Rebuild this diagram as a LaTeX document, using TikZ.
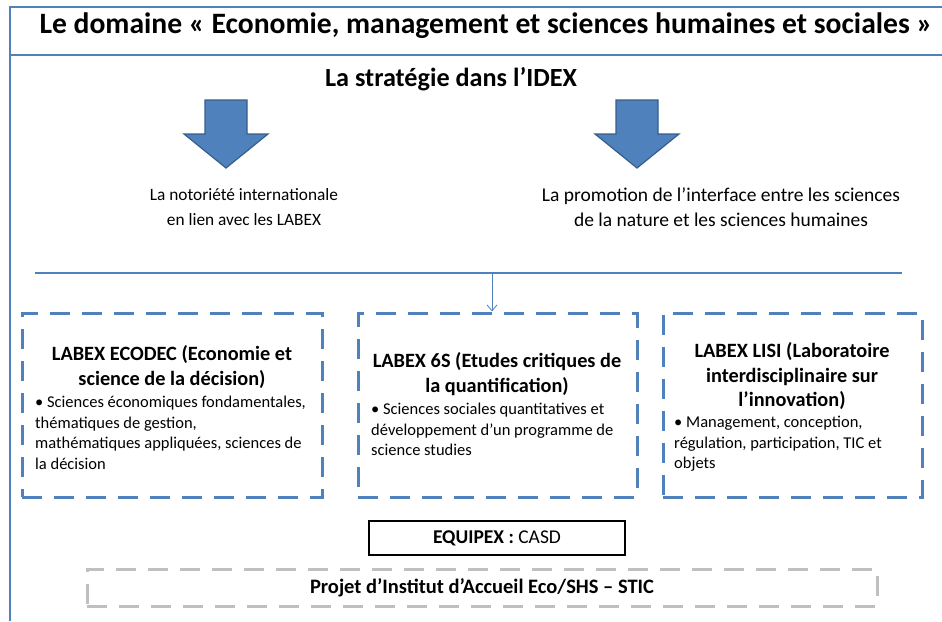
\documentclass[tikz,border=0pt]{standalone}
\usepackage{fontspec}
\setmainfont{Carlito}
\usetikzlibrary{arrows.meta}
\definecolor{officeblue}{HTML}{4F81BD}
\definecolor{darkblue}{HTML}{385D8A}
\definecolor{lightgray}{HTML}{BFBFBF}
\tikzstyle{frame}=[officeblue, line width=2.5pt]
\tikzstyle{labex box}=[draw=officeblue, line width=3pt, dash pattern=on 20pt off 12pt, minimum height=184pt]
\tikzstyle{labex title}=[font=\fontsize{20.3}{24.5}\selectfont\bfseries, align=center]
\tikzstyle{labex text}=[font=\fontsize{16.5}{20.5}\selectfont, align=left, anchor=north west, inner sep=0pt]
\tikzstyle{block arrow}=[fill=officeblue, draw=darkblue, line width=1.2pt]
\tikzstyle{plain text}=[align=center]
\begin{document}
\begin{tikzpicture}[x=1pt, y=-1pt]
      \useasboundingbox (0, 0) rectangle (942, 621);
      % outer frame
      \draw[frame] (942, 7) -- (10, 7) -- (10, 621);
      \draw[frame] (10, 55) -- (942, 55);
      \node[font=\fontsize{29.6}{34}\selectfont\bfseries, inner sep=0pt] (title) at (486, 26)
        {Le domaine « Economie, management et sciences humaines et sociales »};
      \node[font=\fontsize{26.2}{28}\selectfont\bfseries] (idex) at (451, 79)
        {La stratégie dans l’IDEX};
      % block arrows
      \foreach \cx/\name in {226/left, 637/right} {
        \draw[block arrow] (\cx-21, 100) -- (\cx+21, 100) -- (\cx+21, 134)
          -- (\cx+42, 134) -- (\cx, 168) -- (\cx-42, 134) -- (\cx-21, 134) -- cycle;
        \coordinate (arrow \name) at (\cx, 168);
      }
      \node[plain text, font=\fontsize{17.3}{25}\selectfont] (notoriete) at (244, 207)
        {La notoriété internationale\\en lien avec les LABEX};
      \node[plain text, font=\fontsize{19.5}{25}\selectfont] (promotion) at (721, 207)
        {La promotion de l’interface entre les sciences\\de la nature et les sciences humaines};
      % horizontal rule and small arrow
      \coordinate (rule west) at (35, 273);
      \coordinate (rule east) at (902, 273);
      \coordinate (split) at (492, 273);
      \draw[officeblue, line width=1.5pt] (rule west) -- (rule east);
      % labex boxes
      \node[labex box, minimum width=300pt] (ecodec) at (172, 405) {};
      \node[labex box, minimum width=279pt] (labex6s) at (497.5, 405) {};
      \node[labex box, minimum width=259pt] (lisi) at (792.5, 405) {};
      \draw[officeblue, line width=0.8pt, -{Straight Barb[length=6pt, width=10pt]}]
        (split) -- (split |- labex6s.north);
      \node[labex title] (ecodec title) at (172, 367)
        {LABEX ECODEC (Economie et\\science de la décision)};
      \node[labex text] (ecodec text) at (35, 396)
        {• Sciences économiques fondamentales,\\thématiques de gestion,\\mathématiques appliquées, sciences de\\la décision};
      \node[labex title] (labex6s title) at (497, 374)
        {LABEX 6S (Etudes critiques de\\la quantification)};
      \node[labex text] (labex6s text) at (371, 403)
        {• Sciences sociales quantitatives et\\développement d’un programme de\\science studies};
      \node[labex title] (lisi title) at (792, 376)
        {LABEX LISI (Laboratoire\\interdisciplinaire sur\\l’innovation)};
      \node[labex text] (lisi text) at (674, 416)
        {• Management, conception,\\régulation, participation, TIC et\\objets};
      % bottom boxes
      \node[draw, line width=2.5pt, minimum width=256pt, minimum height=34pt,
        font=\fontsize{19.5}{22}\selectfont] (equipex) at (497, 538)
        {\textbf{EQUIPEX :} CASD};
      \node[draw=lightgray, line width=3pt, dash pattern=on 20pt off 12pt,
        minimum width=790pt, minimum height=37pt,
        font=\fontsize{20.5}{24}\selectfont\bfseries] (projet) at (482, 587.5)
        {Projet d’Institut d’Accueil Eco/SHS – STIC};
    \end{tikzpicture}
\end{document}
